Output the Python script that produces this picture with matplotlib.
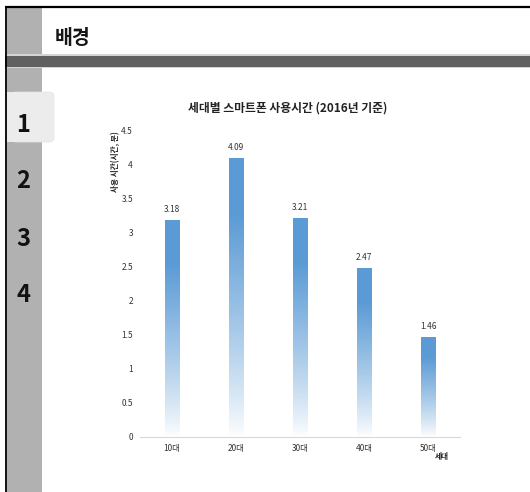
import numpy as np
import matplotlib
matplotlib.use("Agg")
import matplotlib.pyplot as plt
from matplotlib.patches import Rectangle, FancyBboxPatch
from matplotlib.colors import to_rgb

plt.rcParams['font.family'] = ['Noto Sans CJK KR', 'DejaVu Sans']

# ---- data ----
categories = ['10대', '20대', '30대', '40대', '50대']
hours = [3.18, 4.09, 3.21, 2.47, 1.46]
yticks = [0, 0.5, 1, 1.5, 2, 2.5, 3, 3.5, 4, 4.5]
ytick_labels = ['0', '0.5', '1', '1.5', '2', '2.5', '3', '3.5', '4', '4.5']
side_items = ['1', '2', '3', '4']
page_title = '배경'
chart_title = '세대별 스마트폰 사용시간 (2016년 기준)'
y_label = '사용 시간(시간, 분)'
x_label = '세대'

W, H = 530, 492
fig = plt.figure(figsize=(W / 100, H / 100), dpi=100)
fig.patch.set_facecolor('white')

# ---- background / slide decoration in pixel coords ----
bg = fig.add_axes([0, 0, 1, 1])
bg.set_xlim(0, W)
bg.set_ylim(H, 0)
bg.axis('off')

bg.add_patch(Rectangle((7, 7), 35, H - 7, facecolor='#b1b1b1', edgecolor='none'))
bg.add_patch(FancyBboxPatch((14, 95), 37, 44, boxstyle='round,pad=3,rounding_size=5',
                            facecolor='#ececec', edgecolor='#e4e4e4', lw=0.5))
bg.add_patch(Rectangle((7, 92), 12, 50, facecolor='#ececec', edgecolor='none'))
bg.add_patch(Rectangle((5, 54), W - 5, 14, facecolor='#d4d4d4', edgecolor='none'))
bg.add_patch(Rectangle((5, 55.5), W - 5, 11, facecolor='#606060', edgecolor='none'))
bg.plot([5, W], [7, 7], color='black', lw=1.6, solid_capstyle='butt')
bg.plot([6, 6], [7, H], color='black', lw=1.3, solid_capstyle='butt')

bg.text(55, 38, page_title, fontsize=14, fontweight='heavy', color='#151515',
        va='center', ha='left')
side_y = [125, 181, 239, 295]
for s, yy in zip(side_items, side_y):
    bg.text(23, yy, s, fontsize=17, fontweight='bold', color='#111111',
            ha='center', va='center')

bg.text(288, 108, chart_title, fontsize=8.5, fontweight='heavy', color='#222222',
        ha='center', va='center')

# ---- chart ----
ax = fig.add_axes([140 / W, (H - 437) / H, 320 / W, 307 / H])
ax.set_facecolor('none')
x = np.arange(len(categories))
bw = 0.22
top_rgb = np.array(to_rgb('#5b9bd5'))
white = np.array([1.0, 1.0, 1.0])
bars = ax.bar(x, hours, width=bw, color='none', edgecolor='none')
n = 256
frac = np.linspace(0, 1, n)
t = np.clip(frac / 0.8, 0, 1) ** 0.85
grad = (white[None, :] * (1 - t[:, None]) + top_rgb[None, :] * t[:, None])[:, None, :]
for b, xi, h in zip(bars, x, hours):
    im = ax.imshow(grad, extent=[xi - bw / 2, xi + bw / 2, 0, h], origin='lower',
                   aspect='auto', interpolation='bilinear', zorder=2)
    im.set_clip_path(b)
    ax.text(xi, h + 0.09, f'{h:.2f}', ha='center', va='bottom', fontsize=6,
            color='#333333')

ax.set_xlim(-0.5, len(categories) - 0.5)
ax.set_ylim(0, 4.5)
ax.set_yticks(yticks)
ax.set_yticklabels(ytick_labels)
ax.set_xticks(x)
ax.set_xticklabels(categories)
ax.tick_params(axis='both', length=0, labelsize=6, colors='#333333')
ax.tick_params(axis='y', pad=5)
ax.tick_params(axis='x', pad=5)
for side in ['top', 'right', 'left']:
    ax.spines[side].set_visible(False)
ax.spines['bottom'].set_color('#d9d9d9')
ax.spines['bottom'].set_linewidth(0.8)

bg.text(116, 131, y_label, rotation=90, fontsize=5.5, fontweight='bold',
        color='#222222', ha='center', va='top')
bg.text(442, 457, x_label, fontsize=5.5, fontweight='bold', color='#222222',
        ha='center', va='center')

fig.savefig('out.png', dpi=100, facecolor='white')
